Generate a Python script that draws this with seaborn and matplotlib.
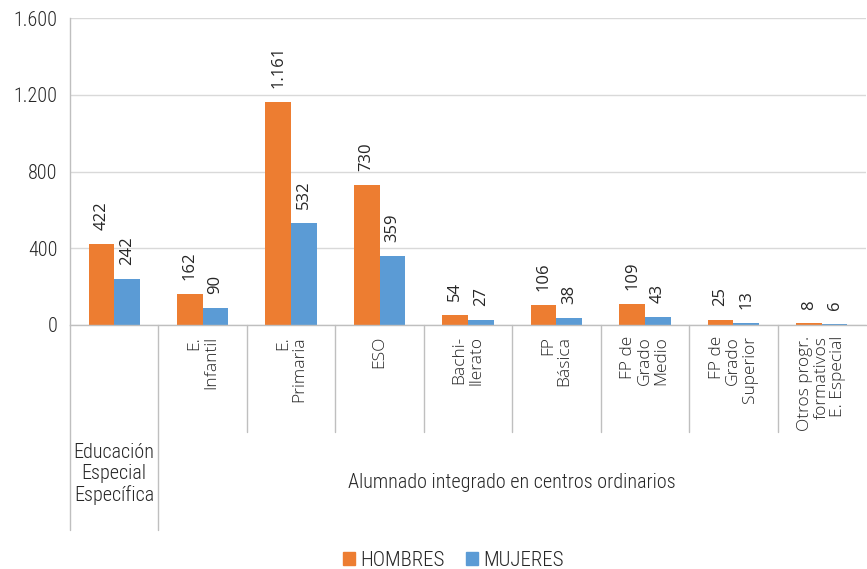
import matplotlib
matplotlib.use("Agg")
import matplotlib.pyplot as plt
import matplotlib.transforms as mtransforms
from matplotlib.patches import Patch
import seaborn as sns
import pandas as pd

categories = ["Educación Especial Específica", "E.\nInfantil", "E.\nPrimaria", "ESO",
              "Bachi-\nllerato", "FP\nBásica", "FP de\nGrado\nMedio",
              "FP de\nGrado\nSuperior", "Otros progr.\nformativos\nE. Especial"]
hombres = [422, 162, 1161, 730, 54, 106, 109, 25, 8]
mujeres = [242, 90, 532, 359, 27, 38, 43, 13, 6]
series = ["HOMBRES", "MUJERES"]
colors = ["#ED7D31", "#5B9BD5"]
yticks = [0, 400, 800, 1200, 1600]
ytick_labels = ["0", "400", "800", "1.200", "1.600"]
group_first = "Educación\nEspecial\nEspecífica"
group_rest = "Alumnado integrado en centros ordinarios"

sns.set_style("white")
plt.rcParams['font.family'] = ['Roboto Condensed', 'DejaVu Sans']
plt.rcParams['font.weight'] = 'light'
LAB = ['Open Sans', 'DejaVu Sans']
TXT = "#262626"

df = pd.DataFrame({
    "cat": categories * 2,
    "val": hombres + mujeres,
    "serie": [series[0]] * len(categories) + [series[1]] * len(categories),
})

fig = plt.figure(figsize=(8.67, 5.69), dpi=100)
ax = fig.add_axes([70 / 867, 1 - 325 / 569, 796 / 867, 307 / 569])
sns.barplot(data=df, x="cat", y="val", hue="serie", order=categories,
            hue_order=series, palette=colors, width=0.58, ax=ax,
            saturation=1, legend=False, edgecolor="none")

ax.set_xlim(-0.5, len(categories) - 0.5)
ax.set_ylim(0, 1600)
ax.set_yticks(yticks)
ax.set_yticklabels(ytick_labels, fontsize=14.5, color=TXT, fontweight='light')
ax.tick_params(axis="y", length=5, color="#bfbfbf", width=1, pad=4)
ax.set_xticks([])
ax.set_xlabel("")
ax.set_ylabel("")
ax.yaxis.grid(True, color="#d9d9d9", linewidth=1)
ax.set_axisbelow(True)
for s in ["top", "right"]:
    ax.spines[s].set_visible(False)
for s in ["left", "bottom"]:
    ax.spines[s].set_color("#bfbfbf")
    ax.spines[s].set_linewidth(1)

def fmt(v):
    return f"{int(v):,}".replace(",", ".")

for cont, vals in zip(ax.containers, [hombres, mujeres]):
    ax.bar_label(cont, labels=[fmt(v) for v in vals], rotation=90, padding=10,
                 fontsize=12, family=LAB, fontweight='normal', color=TXT)

trans = mtransforms.blended_transform_factory(ax.transData, ax.transAxes)
h = 307.0
for i in range(len(categories)):
    x = i - 0.5
    ybot = -205 / h if i <= 1 else -107 / h
    ax.plot([x, x], [0, ybot], transform=trans, color="#bfbfbf", lw=1, clip_on=False)

for i, c in enumerate(categories[1:], start=1):
    ax.text(i, -11 / h, c, transform=trans, rotation=90, ha="center", va="top",
            multialignment="right", fontsize=12.5, family=LAB, fontweight='light',
            color=TXT, linespacing=1.05)

ax.text(0, -118 / h, group_first, transform=trans, ha="center", va="top",
        fontsize=14.5, color=TXT, linespacing=1.12, fontweight='light')
ax.text(4.5, -157 / h, group_rest, transform=trans, ha="center", va="center",
        fontsize=14.5, color=TXT, fontweight='light')

handles = [Patch(color=c, label=s) for c, s in zip(colors, series)]
fig.legend(handles=handles, loc="center", bbox_to_anchor=(0.523, 1 - 560 / 569),
           ncol=2, frameon=False, handlelength=0.6, handleheight=0.6,
           handletextpad=0.25, columnspacing=1.0, labelcolor=TXT,
           prop={'family': ['Roboto Condensed', 'DejaVu Sans'], 'size': 15, 'weight': 'light'})

fig.savefig("out.png", dpi=100)
